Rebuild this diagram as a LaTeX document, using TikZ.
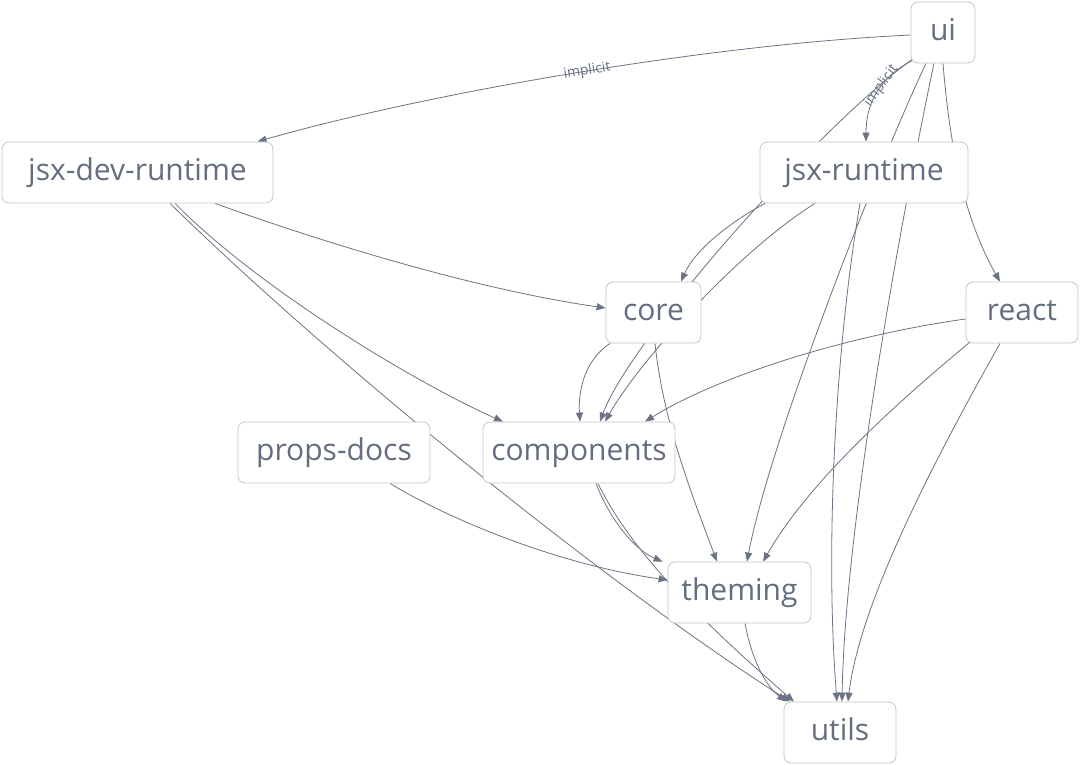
\documentclass[tikz,border=0pt]{standalone}
\usepackage{fontspec}
\setmainfont{Open Sans}
\usetikzlibrary{arrows.meta}
\pgfdeclarelayer{bg}
\pgfsetlayers{bg,main}
\definecolor{edgec}{HTML}{6B7385}
\definecolor{textc}{HTML}{646E80}
\definecolor{boxc}{HTML}{C4C6CC}
\begin{document}
\begin{tikzpicture}[x=1pt,y=-1pt,
  box/.style={draw=boxc, line width=0.8pt, rounded corners=7pt, fill=white, text=textc,
    font=\fontsize{30}{34}\selectfont, minimum height=61pt, inner sep=0pt,
    text height=20pt, text depth=4pt},
  dep/.style={draw=edgec, line width=0.8pt, -{Triangle[length=9pt,width=7pt]}},
  lbl/.style={text=edgec, font=\fontsize{14}{16}\selectfont, sloped, inner sep=0pt}]
\useasboundingbox (0,0) rectangle (1080,765);
\node[box, minimum width=64pt]  (ui)      at (943,32.5)   {ui};
\node[box, minimum width=271pt] (jsxdev)  at (137.5,172.5) {jsx-dev-runtime};
\node[box, minimum width=208pt] (jsx)     at (864,172.5)  {jsx-runtime};
\node[box, minimum width=95pt]  (core)    at (653.5,312.5) {core};
\node[box, minimum width=112pt] (react)   at (1022,312.5) {react};
\node[box, minimum width=192pt] (props)   at (334,452.5)  {props-docs};
\node[box, minimum width=192pt] (comp)    at (579,452.5)  {components};
\node[box, minimum width=143pt] (theming) at (739.5,592.5) {theming};
\node[box, minimum width=112pt] (utils)   at (840,732.5)  {utils};
\begin{pgfonlayer}{bg}
\fill[white] (0,0) rectangle (1080,765);
% ui
\draw[dep] ([yshift=-2.5pt]ui.west) .. controls (700,45) and (420,95) .. node[lbl,pos=0.47]{implicit} ([xshift=120pt]jsxdev.north);
\draw[dep] ([xshift=2pt,yshift=3pt]ui.south west) .. controls (878,78) and (866,105) .. node[lbl,pos=0.4]{implicit} ([xshift=2pt]jsx.north);
\draw[dep] ([xshift=3pt,yshift=5pt]ui.south west) .. controls (820,125) and (630,340) .. ([xshift=21pt]comp.north);
\draw[dep] ([xshift=-17pt]ui.south) .. controls (880,160) and (770,440) .. ([xshift=7.5pt]theming.north);
\draw[dep] ([xshift=-9pt]ui.south) .. controls (905,200) and (845,520) .. ([xshift=2pt]utils.north);
\draw[dep] (ui.south) .. controls (950,150) and (965,220) .. ([xshift=-22pt]react.north);
% jsx-dev-runtime
\draw[dep] ([xshift=77.5pt]jsxdev.south) .. controls (330,245) and (480,290) .. ([yshift=4.5pt]core.west);
\draw[dep] ([xshift=37.5pt]jsxdev.south) .. controls (260,290) and (420,385) .. ([xshift=-76pt]comp.north);
\draw[dep] ([xshift=32.5pt]jsxdev.south) .. controls (330,360) and (600,580) .. ([xshift=-50pt]utils.north);
% jsx-runtime
\draw[dep] ([xshift=-99pt]jsx.south) .. controls (730,222) and (695,250) .. ([xshift=27.5pt]core.north);
\draw[dep] ([xshift=-49pt]jsx.south) .. controls (740,250) and (640,360) .. ([xshift=26pt]comp.north);
\draw[dep] ([xshift=-4pt]jsx.south) .. controls (835,350) and (825,550) .. ([xshift=-3pt]utils.north);
% core
\draw[dep] ([xshift=-43.5pt]core.south) .. controls (585,360) and (578,390) .. ([xshift=1pt]comp.north);
\draw[dep] ([xshift=1.5pt]core.south) .. controls (663,420) and (690,490) .. ([xshift=-22.5pt]theming.north);
% react
\draw[dep] ([yshift=-6.5pt]react.west) .. controls (850,335) and (720,375) .. ([xshift=66pt]comp.north);
\draw[dep] ([xshift=-50pt,yshift=3pt]react.south) .. controls (900,400) and (810,480) .. ([xshift=23.5pt]theming.north);
\draw[dep] ([xshift=-22pt]react.south) .. controls (940,450) and (860,600) .. ([xshift=8pt]utils.north);
% props-docs
\draw[dep] ([xshift=56pt]props.south) .. controls (450,520) and (560,565) .. ([yshift=12.5pt]theming.west);
% components
\draw[dep] ([xshift=17pt]comp.south) .. controls (610,520) and (635,550) .. ([xshift=-5pt]theming.north west);
\draw[dep] ([xshift=19pt]comp.south) .. controls (630,550) and (700,620) .. ([xshift=-46pt]utils.north);
% theming
\draw[dep] ([xshift=5.5pt]theming.south) .. controls (752,660) and (765,685) .. ([xshift=-54pt]utils.north);
\end{pgfonlayer}
\end{tikzpicture}
\end{document}
